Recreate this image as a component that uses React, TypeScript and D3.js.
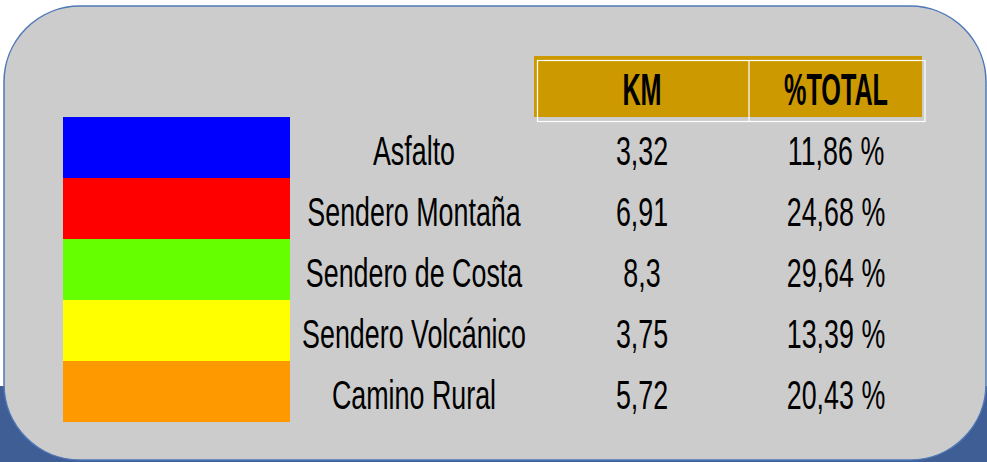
import React from "react";
import * as d3 from "d3";

const categories = ["Asfalto", "Sendero Montaña", "Sendero de Costa", "Sendero Volcánico", "Camino Rural"];
const colors = ["#0000ff", "#ff0000", "#66ff00", "#ffff00", "#ff9900"];
const kmValues = [3.32, 6.91, 8.3, 3.75, 5.72];
const pctValues = [11.86, 24.68, 29.64, 13.39, 20.43];
const headers = ["KM", "%TOTAL"];

const W = 987;
const H = 462;
const FONT = "'Liberation Sans', Arial, sans-serif";

const fmtKm = (v: number) => String(v).replace(".", ",");
const fmtPct = (v: number) => v.toFixed(2).replace(".", ",") + " %";

const App = () => {
  const y = d3.scaleBand().domain(categories).range([117, 422]).padding(0);
  // column centres for the header cells / value columns
  const cols = d3.scaleOrdinal<string, number>().domain(headers).range([642, 836]);
  const labelX = 414;

  const Txt = ({ x, yy, text, size, sx, bold }: any) => (
    <text
      transform={`translate(${x},${yy}) scale(${sx},1)`}
      textAnchor="middle"
      fontFamily={FONT}
      fontSize={size}
      fontWeight={bold ? "bold" : "normal"}
      fill="#000"
    >
      {text}
    </text>
  );

  return (
    <svg width={W} height={H} style={{ position: "absolute", left: 0, top: 0 }}>
      <rect x={0} y={0} width={W} height={H} fill="#ffffff" />
      <rect x={0} y={386} width={W} height={H - 386} fill="#3f5e95" />
      <rect x={4} y={6} width={982} height={454} rx={76} ry={76} fill="#cccccc" stroke="#4f78b8" strokeWidth={1.5} />

      {/* header */}
      <rect x={534} y={56} width={388} height={61} fill="#cc9900" />
      <rect x={537.5} y={60.5} width={387.5} height={61} fill="none" stroke="#ffffff" strokeWidth={1.2} />
      <line x1={749} x2={749} y1={60.5} y2={121.5} stroke="#ffffff" strokeWidth={1.2} />
      {headers.map((h) => (
        <Txt key={h} x={cols(h)} yy={105} text={h} size={45} sx={0.56} bold />
      ))}

      {categories.map((c, i) => {
        const yc = (y(c) as number) + y.bandwidth() / 2;
        return (
          <g key={c}>
            <rect x={63} y={y(c)} width={227} height={y.bandwidth()} fill={colors[i]} />
            <Txt x={labelX} yy={yc + 17.5} text={c} size={41} sx={0.655} />
            <Txt x={cols("KM")} yy={yc + 17.5} text={fmtKm(kmValues[i])} size={41} sx={0.655} />
            <Txt x={cols("%TOTAL")} yy={yc + 17.5} text={fmtPct(pctValues[i])} size={41} sx={0.655} />
          </g>
        );
      })}
    </svg>
  );
};

export default App;
